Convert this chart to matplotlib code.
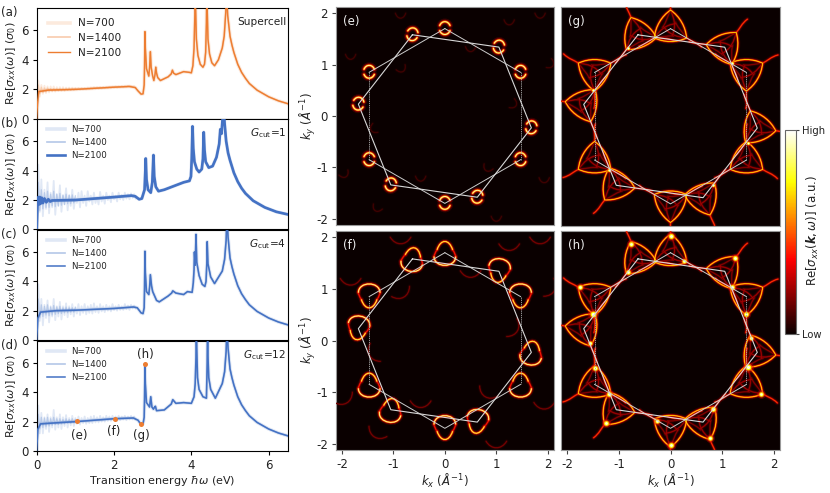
import matplotlib
matplotlib.use("Agg")
import matplotlib.pyplot as plt
from matplotlib.cm import ScalarMappable
from matplotlib.colors import Normalize
from matplotlib.path import Path
from matplotlib.patches import PathPatch
from matplotlib.transforms import Affine2D

plt.rcParams['axes.unicode_minus'] = False
plt.rcParams['mathtext.fontset'] = 'dejavusans'

W, H = 830, 493
ORANGE = '#ED7D31'
BLUE = '#4472C4'
TXT = '#222222'

# spectra
a_e = [0.0, 0.02, 0.05, 0.3, 1.0, 2.0, 2.4, 2.55, 2.62, 2.7, 2.75, 2.78, 2.79, 2.8, 2.81, 2.84, 2.9, 2.92, 2.94, 2.96, 3.0, 3.03, 3.06, 3.08, 3.1, 3.13, 3.2, 3.4, 3.48, 3.51, 3.54, 3.6, 3.8, 3.95, 4.0, 4.04, 4.07, 4.09, 4.1, 4.11, 4.13, 4.17, 4.23, 4.3, 4.34, 4.37, 4.39, 4.4, 4.41, 4.43, 4.47, 4.53, 4.6, 4.7, 4.8, 4.85, 4.89, 4.91, 4.94, 5.0, 5.05, 5.1, 5.2, 5.3, 5.4, 5.5, 5.7, 6.0, 6.25, 6.5]
a_s = [0.0, 1.0, 1.85, 1.95, 2.0, 2.15, 2.2, 2.12, 1.9, 1.68, 1.7, 2.3, 3.6, 5.9, 4.8, 3.4, 2.9, 3.5, 4.55, 3.5, 2.9, 2.6, 3.0, 3.5, 3.1, 2.8, 2.6, 2.85, 3.05, 3.3, 3.1, 3.0, 3.2, 3.15, 3.12, 3.6, 4.8, 7.0, 9.0, 7.5, 5.4, 4.3, 3.7, 3.5, 3.7, 4.5, 6.5, 9.0, 7.5, 5.4, 4.4, 3.8, 3.6, 4.0, 4.8, 5.6, 7.2, 8.5, 7.0, 5.6, 5.0, 4.5, 3.7, 3.15, 2.75, 2.4, 1.95, 1.5, 1.23, 1.03]

b_e = [0.0, 0.02, 0.04, 0.06, 0.08, 0.1, 0.13, 0.16, 0.2, 0.25, 0.3, 0.35, 0.4, 1.0, 2.0, 2.45, 2.55, 2.65, 2.72, 2.79, 2.81, 2.82, 2.84, 2.88, 2.95, 2.99, 3.01, 3.02, 3.04, 3.08, 3.15, 3.3, 3.8, 3.95, 3.99, 4.01, 4.03, 4.05, 4.08, 4.14, 4.2, 4.27, 4.3, 4.32, 4.34, 4.37, 4.45, 4.55, 4.65, 4.72, 4.75, 4.78, 4.81, 4.83, 4.86, 4.9, 4.95, 5.0, 5.1, 5.2, 5.3, 5.4, 5.6, 5.9, 6.2, 6.5]
b_s = [0.0, 1.6, 2.2, 1.7, 2.2, 1.75, 2.15, 1.8, 2.1, 1.85, 2.05, 1.9, 1.97, 2.0, 2.2, 2.3, 2.25, 2.05, 2.1, 2.7, 4.0, 4.82, 3.4, 2.7, 2.5, 3.2, 4.4, 5.05, 3.6, 2.9, 2.6, 2.7, 3.2, 3.3, 3.6, 4.8, 7.0, 5.5, 4.6, 4.1, 3.9, 4.1, 4.8, 6.6, 5.4, 4.6, 4.2, 4.3, 4.9, 5.8, 6.8, 6.5, 7.6, 8.5, 7.2, 6.0, 5.2, 4.7, 3.85, 3.25, 2.8, 2.45, 1.95, 1.5, 1.2, 1.02]

c_e = [0.0, 0.03, 0.1, 0.5, 1.0, 2.0, 2.5, 2.6, 2.7, 2.75, 2.78, 2.79, 2.8, 2.81, 2.84, 2.9, 2.92, 2.94, 2.97, 3.0, 3.1, 3.17, 3.4, 3.49, 3.52, 3.6, 3.8, 3.9, 4.02, 4.05, 4.07, 4.08, 4.1, 4.12, 4.14, 4.2, 4.28, 4.35, 4.38, 4.4, 4.41, 4.43, 4.5, 4.6, 4.8, 4.86, 4.9, 4.92, 4.95, 5.0, 5.05, 5.1, 5.2, 5.3, 5.4, 5.5, 5.7, 6.0, 6.25, 6.5]
c_s = [0.0, 1.5, 1.9, 2.0, 2.03, 2.15, 2.25, 2.2, 1.85, 1.8, 2.2, 3.6, 6.05, 4.6, 3.3, 3.1, 3.6, 4.45, 3.7, 3.3, 2.7, 2.6, 3.0, 3.2, 3.35, 3.2, 3.1, 3.3, 3.25, 3.9, 4.8, 6.0, 5.1, 7.2, 5.3, 4.4, 3.8, 3.65, 4.0, 5.2, 6.7, 5.2, 4.3, 3.85, 4.7, 5.5, 6.8, 8.5, 7.0, 5.6, 5.0, 4.5, 3.7, 3.15, 2.75, 2.4, 1.95, 1.5, 1.23, 1.03]

d_e = [0.0, 0.03, 0.1, 0.5, 1.0, 2.0, 2.5, 2.62, 2.7, 2.75, 2.78, 2.79, 2.8, 2.81, 2.84, 2.92, 2.95, 2.98, 3.02, 3.05, 3.07, 3.1, 3.3, 3.48, 3.52, 3.6, 3.8, 4.0, 4.07, 4.1, 4.12, 4.13, 4.14, 4.16, 4.2, 4.3, 4.39, 4.41, 4.42, 4.43, 4.45, 4.5, 4.62, 4.8, 4.86, 4.9, 4.92, 4.95, 5.0, 5.05, 5.1, 5.2, 5.3, 5.4, 5.5, 5.7, 6.0, 6.25, 6.5]
d_s = [0.0, 1.5, 1.85, 1.92, 2.0, 2.2, 2.25, 2.1, 1.8, 1.85, 2.3, 3.6, 5.9, 4.6, 3.3, 3.0, 3.7, 3.0, 2.85, 3.0, 3.05, 2.75, 2.8, 3.2, 3.5, 3.25, 3.3, 3.25, 3.7, 4.6, 6.4, 9.0, 7.0, 5.0, 4.2, 3.7, 3.6, 6.0, 9.0, 6.5, 5.0, 4.2, 3.6, 4.6, 5.4, 6.8, 8.5, 7.0, 5.6, 5.0, 4.5, 3.7, 3.15, 2.75, 2.4, 1.95, 1.5, 1.23, 1.03]

# noise of the shorter runs at low energy
noise_e = [0.0, 0.04, 0.08, 0.12, 0.16, 0.2, 0.24, 0.28, 0.32, 0.36, 0.4, 0.44, 0.48, 0.52, 0.56, 0.6, 0.64, 0.68, 0.72, 0.76, 0.8, 0.84, 0.88, 0.92, 0.96, 1.0, 1.04, 1.08, 1.12, 1.16, 1.2, 1.24, 1.28, 1.32, 1.36, 1.4, 1.44, 1.48, 1.52, 1.56, 1.6, 1.64, 1.68, 1.72, 1.76, 1.8, 1.84, 1.88, 1.92, 1.96, 2.0, 2.04, 2.08, 2.12, 2.16, 2.2, 2.24, 2.28, 2.32, 2.36, 2.4, 2.44, 2.48, 2.52, 2.56]
b_n700 = [0.6, 4.4, 1.2, 3.4, 0.9, 2.7, 1.4, 3.2, 1.1, 2.5, 1.5, 3.3, 1.0, 2.4, 1.6, 3.0, 1.2, 2.3, 1.7, 2.8, 1.3, 2.3, 1.6, 2.7, 1.4, 2.2, 1.8, 2.5, 1.5, 2.6, 1.8, 2.3, 1.6, 2.6, 1.9, 2.3, 1.7, 2.5, 1.8, 2.2, 1.7, 2.55, 1.9, 2.3, 1.75, 2.5, 2.0, 2.3, 1.85, 2.5, 2.05, 2.3, 1.9, 2.5, 2.05, 2.35, 2.0, 2.5, 2.1, 2.4, 2.05, 2.45, 2.15, 2.4, 2.1]
c_n700 = [0.2, 3.8, 1.3, 2.8, 1.0, 2.4, 1.5, 2.7, 1.2, 2.3, 1.6, 2.8, 1.35, 2.3, 1.6, 2.6, 1.4, 2.3, 1.7, 2.5, 1.55, 2.3, 1.75, 2.45, 1.6, 2.25, 1.8, 2.45, 1.7, 2.3, 1.85, 2.45, 1.75, 2.3, 1.85, 2.4, 1.8, 2.5, 1.9, 2.3, 1.85, 2.45, 1.95, 2.3, 1.9, 2.4, 2.0, 2.3, 1.95, 2.45, 2.05, 2.3, 2.0, 2.4, 2.05, 2.3, 2.05, 2.45, 2.1, 2.35, 2.05, 2.4, 2.15, 2.35, 2.15]
d_n700 = [0.2, 3.1, 1.2, 2.6, 1.2, 2.3, 1.5, 2.5, 1.3, 2.3, 1.6, 2.8, 1.45, 2.3, 1.6, 2.5, 1.5, 2.3, 1.7, 2.45, 1.6, 2.25, 1.75, 2.4, 1.7, 2.25, 1.85, 2.35, 1.8, 2.25, 1.9, 2.35, 1.85, 2.25, 1.9, 2.35, 1.9, 2.4, 1.95, 2.3, 1.95, 2.4, 2.0, 2.3, 2.0, 2.4, 2.05, 2.35, 2.05, 2.4, 2.1, 2.35, 2.05, 2.4, 2.1, 2.35, 2.15, 2.4, 2.1, 2.35, 2.15, 2.4, 2.15, 2.35, 2.15]
a_n700 = [0.1, 2.6, 1.5, 2.3, 1.7, 2.25, 1.75, 2.2, 1.8, 2.2, 1.85, 2.2, 1.85, 2.15, 1.9, 2.15, 1.9, 2.15, 1.9, 2.12, 1.95, 2.12, 1.95, 2.12, 1.97, 2.1, 1.98, 2.1, 1.98, 2.1, 2.0, 2.1, 2.0, 2.12, 2.02, 2.12, 2.03, 2.14, 2.04, 2.14, 2.05, 2.15, 2.06, 2.16, 2.08, 2.16, 2.1, 2.18, 2.1, 2.18, 2.12, 2.2, 2.12, 2.2, 2.14, 2.22, 2.14, 2.22, 2.16, 2.24, 2.16, 2.24, 2.18, 2.22, 2.1]
# N=1400 stays closer to the curve, first 26 noise energies only
b_n1400 = [0.9, 3.2, 1.3, 2.7, 1.4, 2.5, 1.5, 2.6, 1.5, 2.4, 1.6, 2.6, 1.55, 2.4, 1.6, 2.45, 1.65, 2.35, 1.7, 2.4, 1.75, 2.35, 1.75, 2.35, 1.8, 2.3]
c_n1400 = [0.5, 2.8, 1.5, 2.4, 1.6, 2.3, 1.7, 2.4, 1.65, 2.25, 1.7, 2.35, 1.75, 2.25, 1.8, 2.3, 1.8, 2.2, 1.85, 2.25, 1.85, 2.2, 1.9, 2.2, 1.9, 2.2]
d_n1400 = [0.5, 2.5, 1.5, 2.3, 1.6, 2.25, 1.65, 2.3, 1.7, 2.2, 1.75, 2.3, 1.8, 2.2, 1.8, 2.2, 1.85, 2.15, 1.85, 2.2, 1.9, 2.15, 1.9, 2.2, 1.95, 2.15]
a_n1400 = [0.3, 2.3, 1.7, 2.15, 1.8, 2.1, 1.85, 2.1, 1.9, 2.05, 1.9, 2.05, 1.92, 2.05, 1.93, 2.05, 1.95, 2.05, 1.95, 2.05, 1.97, 2.05, 1.97, 2.05, 1.98, 2.05]

# tick labels and legend names
e_ticks = [0, 2, 4, 6]
s_ticks = [0, 2, 4, 6]
k_ticks = [-2, -1, 0, 1, 2]
n_names = ['N=700', 'N=1400', 'N=2100']

# (e)-(h) energies marked on panel (d)
mark_e = [1.05, 2.02, 2.69, 2.8]
mark_s = [2.03, 2.2, 1.83, 5.9]

# the two mini-BZ hexagons and the corner orientations of the bright features
hex1_x = [0.0, 1.47, 1.47, 0.0, -1.47, -1.47, 0.0]
hex1_y = [1.7, 0.85, -0.85, -1.7, -0.85, 0.85, 1.7]
hex1_rot = [0, 180, 0, 180, 0, 180]
hex2_x = [-0.63, 1.05, 1.68, 0.63, -1.05, -1.68, -0.63]
hex2_y = [1.58, 1.34, -0.23, -1.58, -1.34, 0.23, 1.58]
hex2_rot = [22, 202, 22, 202, 22, 202]
hex2_rot_f = [-10, 170, -10, 170, -10, 170]

# faint replica arcs
faint_x = [-1.83, -0.86, 0.5, 1.3, -1.35, -0.47, 0.85, 1.93, -1.97, -1.3, 1.25, -0.86, 1.85, 1.0, 2.02]
faint_y = [1.2, 0.95, 1.35, 0.25, -0.23, -1.17, -0.98, -1.2, -1.1, -1.76, 1.87, 2.0, 2.0, -1.95, 1.03]
faint_rot = [0, 30, 0, 60, -60, 0, -30, 0, 30, -30, 0, 0, 0, 0, 60]

# arcs around one corner: four control points and a brightness
ring_pieces = [
    ([(-0.1, 0.05), (-0.06, 0.15), (0.06, 0.15), (0.1, 0.05)], 0.98),
    ([(-0.1, -0.05), (-0.06, -0.15), (0.06, -0.15), (0.1, -0.05)], 1.0),
]
loop_pieces = [
    ([(-0.15, 0.06), (-0.08, 0.27), (0.08, 0.27), (0.15, 0.06)], 0.9),
    ([(-0.21, -0.08), (-0.2, -0.3), (0.2, -0.3), (0.21, -0.08)], 1.0),
    ([(-0.15, 0.06), (-0.19, 0.0), (-0.21, -0.05), (-0.21, -0.08)], 0.45),
    ([(0.15, 0.06), (0.19, 0.0), (0.21, -0.05), (0.21, -0.08)], 0.45),
]
tri_pieces = [
    ([(0.0, 0.36), (0.18, 0.24), (0.3, 0.02), (0.31, -0.18)], 0.8),
    ([(0.31, -0.18), (0.4, -0.24), (0.5, -0.26), (0.6, -0.36)], 0.52),
    ([(0.0, 0.36), (0.07, 0.2), (0.12, 0.05), (0.03, -0.14)], 0.26),
    ([(0.0, 0.36), (-0.07, 0.2), (-0.1, 0.08), (-0.16, 0.02)], 0.22),
]
faint_e = [([(-0.1, 0.0), (-0.06, -0.13), (0.06, -0.13), (0.1, 0.0)], 0.1)]
faint_f = [([(-0.2, 0.0), (-0.1, -0.17), (0.1, -0.17), (0.2, 0.0)], 0.2)]

# hot spots
spot_g_x = [-1.5, 1.5, 1.2, -1.19, 0.82, -0.82]
spot_g_y = [0.51, -0.52, 1.03, -1.04, -1.33, 1.33]
spot_h_x = [0.0, -0.77, 0.27, 1.24, -0.82, 1.2, -1.75, -1.5, 1.47, -1.56, 1.56, -1.46, 1.5, -1.19, 1.75, 0.82, -0.27, -1.25, 0.77, 0.0]
spot_h_y = [2.03, 1.87, 1.54, 1.59, 1.33, 1.03, 1.03, 0.51, 0.52, -0.05, 0.05, -0.54, -0.52, -1.04, -1.03, -1.33, -1.55, -1.6, -1.88, -2.03]
spot_h_w = [1.0, 0.9, 0.7, 0.9, 0.8, 0.9, 0.8, 1.3, 0.9, 0.6, 0.6, 0.9, 1.3, 0.9, 0.8, 0.9, 0.7, 0.9, 0.8, 1.0]

hot = plt.get_cmap('hot')


def px_axes(fig, x0, y0, x1, y1):
    return fig.add_axes([x0 / W, 1 - y1 / H, (x1 - x0) / W, (y1 - y0) / H])


def spectrum_panel(ax, letter, col, e, s, n700, n1400, lw_full, tag, leg_size, leg_y):
    # pale runs first, then the converged one
    ax.plot(noise_e, n700, color=col, lw=1.3, alpha=0.16, zorder=1)
    ax.plot(noise_e[:26], n1400, color=col, lw=0.9, alpha=0.25, zorder=1)
    l1, = ax.plot(e, s, color=col, lw=2.6, alpha=0.16, label=n_names[0], zorder=1)
    l2, = ax.plot(e, s, color=col, lw=1.2, alpha=0.4, label=n_names[1], zorder=2)
    l3, = ax.plot(e, s, color=col, lw=lw_full, label=n_names[2], zorder=3)
    ax.set_xlim(0, 6.5)
    ax.set_ylim(0, 7.5)
    ax.set_xticks(e_ticks)
    ax.set_yticks(s_ticks)
    ax.tick_params(labelsize=8.5, length=3, width=0.8, pad=2.5, labelcolor=TXT,
                   bottom=False, labelbottom=False)
    ax.set_ylabel(r'Re[$\sigma_{xx}(\omega)$] ($\sigma_0$)', fontsize=8, color=TXT)
    ax.yaxis.set_label_coords(-0.075, 0.5)
    ax.text(-0.143, 0.96, letter, transform=ax.transAxes, fontsize=8.5, color=TXT, va='center')
    ax.text(0.993, 0.875, tag, transform=ax.transAxes, fontsize=7.6, color=TXT, ha='right', va='center')
    ax.legend(handles=[l1, l2, l3], loc='upper left', frameon=False, fontsize=leg_size,
              labelcolor=TXT, borderaxespad=0.2, handlelength=2.1, handletextpad=0.7,
              labelspacing=0.47, bbox_to_anchor=(0.02, leg_y))


def glow(ax, verts, rot, cx, cy, level, wid=1.0):
    codes = [Path.MOVETO, Path.CURVE4, Path.CURVE4, Path.CURVE4]
    tr = Affine2D().rotate_deg(rot).translate(cx, cy) + ax.transData
    layers = [(3.0, 0.18, 0.35, 1), (1.8, 0.32, 0.6, 2), (1.0, 0.55, 1.0, 3), (0.45, 0.9, 1.0, 4)]
    for lw, frac, alpha, z in layers:
        ax.add_patch(PathPatch(Path(verts, codes), fill=False, lw=lw * wid, alpha=alpha,
                               edgecolor=hot(level * frac), capstyle='round',
                               transform=tr, zorder=z + level * 0.5))


def corners(ax, pieces, rots2, turns=(0,), dy=0.0, wid=1.0):
    for xs, ys, rots in [(hex1_x, hex1_y, hex1_rot), (hex2_x, hex2_y, rots2)]:
        for x, y, r in zip(xs[:-1], ys[:-1], rots):
            for t in turns:
                for verts, level in pieces:
                    glow(ax, verts, r + t, x, y + dy, level, wid)


def spots(ax, xs, ys, ws):
    for x, y, w in zip(xs, ys, ws):
        ax.scatter(x, y, s=50 * w, color=hot(0.3), alpha=0.4, lw=0, zorder=6)
        ax.scatter(x, y, s=24 * w, color=hot(0.5), alpha=0.7, lw=0, zorder=6.1)
        ax.scatter(x, y, s=12 * w, color=hot(0.75), lw=0, zorder=6.2)
        ax.scatter(x, y, s=4 * w, color=hot(0.97), lw=0, zorder=6.3)


def k_panel(ax, letter, bottom, left):
    ax.set_facecolor('#0a0000')
    ax.set_xlim(-2.12, 2.12)
    ax.set_ylim(-2.12, 2.12)
    ax.set_xticks(k_ticks)
    ax.set_yticks(k_ticks)
    ax.tick_params(labelsize=8.5, length=3, width=0.8, pad=2.5, color='#444444', labelcolor=TXT,
                   bottom=bottom, labelbottom=bottom, left=left, labelleft=left)
    for sp in ax.spines.values():
        sp.set_color('#999999')
    # slanted edges solid, the two vertical edges come out broken
    ax.plot(hex1_x[:2], hex1_y[:2], color='#cccccc', lw=0.7, zorder=8)
    ax.plot(hex1_x[2:5], hex1_y[2:5], color='#cccccc', lw=0.7, zorder=8)
    ax.plot(hex1_x[5:], hex1_y[5:], color='#cccccc', lw=0.7, zorder=8)
    ax.plot(hex1_x[1:3], hex1_y[1:3], color='#aaaaaa', lw=0.6, ls=(0, (1.6, 1.0)), zorder=8)
    ax.plot(hex1_x[4:6], hex1_y[4:6], color='#aaaaaa', lw=0.6, ls=(0, (1.6, 1.0)), zorder=8)
    ax.plot(hex2_x, hex2_y, color='#d8d8d8', lw=0.8, zorder=8)
    ax.text(0.033, 0.935, letter, transform=ax.transAxes, fontsize=8.5, color='#eeeeee', va='center')
    if bottom:
        ax.set_xlabel(r'$k_x$ ($\AA^{-1}$)', fontsize=8.5, color=TXT, labelpad=1)
    if left:
        ax.set_ylabel(r'$k_y$ ($\AA^{-1}$)', fontsize=8.5, color=TXT, labelpad=-1)


fig = plt.figure(figsize=(W / 100, H / 100), dpi=100)

ax_a = px_axes(fig, 36.7, 8, 288, 119)
ax_b = px_axes(fig, 36.7, 119, 288, 229.5)
ax_c = px_axes(fig, 36.7, 230, 288, 340)
ax_d = px_axes(fig, 36.7, 341, 288, 451)

spectrum_panel(ax_a, '(a)', ORANGE, a_e, a_s, a_n700, a_n1400, 1.0, 'Supercell', 7.6, 0.965)
spectrum_panel(ax_b, '(b)', BLUE, b_e, b_s, b_n700, b_n1400, 1.9, r'$G_{\rm cut}$=1', 6.2, 0.99)
spectrum_panel(ax_c, '(c)', BLUE, c_e, c_s, c_n700, c_n1400, 1.1, r'$G_{\rm cut}$=4', 6.2, 0.99)
spectrum_panel(ax_d, '(d)', BLUE, d_e, d_s, d_n700, d_n1400, 1.1, r'$G_{\rm cut}$=12', 6.2, 0.99)

ax_d.tick_params(bottom=True, labelbottom=True)
ax_d.set_xlabel(r'Transition energy $\hbar\omega$ (eV)', fontsize=8, color=TXT, labelpad=1.5)
ax_d.scatter(mark_e, mark_s, s=13, color=ORANGE, lw=0, zorder=5)
ax_d.text(1.09, 1.08, '(e)', fontsize=8.5, color=TXT, ha='center', va='center')
ax_d.text(1.98, 1.3, '(f)', fontsize=8.5, color=TXT, ha='center', va='center')
ax_d.text(2.71, 1.08, '(g)', fontsize=8.5, color=TXT, ha='center', va='center')
ax_d.text(2.82, 6.57, '(h)', fontsize=8.5, color=TXT, ha='center', va='center')

ax_e = px_axes(fig, 335.7, 7, 554, 225)
ax_f = px_axes(fig, 335.7, 231, 554, 450)
ax_g = px_axes(fig, 561, 7, 780, 225.5)
ax_h = px_axes(fig, 561, 231, 780, 450)

k_panel(ax_e, '(e)', False, True)
k_panel(ax_f, '(f)', True, True)
k_panel(ax_g, '(g)', False, False)
k_panel(ax_h, '(h)', True, False)

corners(ax_e, ring_pieces, hex2_rot_f, dy=0.01, wid=1.5)
for x, y, r in zip(faint_x, faint_y, faint_rot):
    glow(ax_e, faint_e[0][0], r, x, y, faint_e[0][1])
    glow(ax_f, faint_f[0][0], r, x, y, faint_f[0][1])
corners(ax_f, loop_pieces, hex2_rot_f, wid=1.25)
corners(ax_g, tri_pieces, hex2_rot, turns=(0, 120, 240), wid=1.15)
corners(ax_h, tri_pieces, hex2_rot, turns=(0, 120, 240), wid=1.15)
spots(ax_g, spot_g_x, spot_g_y, [0.35] * len(spot_g_x))
spots(ax_h, spot_h_x, spot_h_y, spot_h_w)

cax = px_axes(fig, 785, 130, 796, 334)
cb = fig.colorbar(ScalarMappable(Normalize(0, 1), hot), cax=cax, ticks=[0, 1])
cb.ax.set_yticklabels(['Low', 'High'], fontsize=7.2, color=TXT)
cb.ax.tick_params(length=2.5, width=0.8, pad=1.5, color='#444444')
cb.outline.set_edgecolor('#666666')
fig.text(813 / W, 1 - 231 / H, r'Re[$\sigma_{xx}(\boldsymbol{k},\omega)$] (a.u.)', rotation=90,
         fontsize=8.5, color=TXT, ha='center', va='center')

plt.savefig('out.png', dpi=100)
